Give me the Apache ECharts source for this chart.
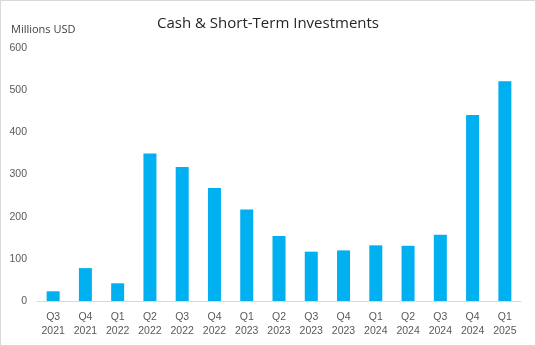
<!DOCTYPE html>
<html><head><meta charset="utf-8">
<script src="https://cdn.jsdelivr.net/npm/echarts@6/dist/echarts.min.js"></script>
<style>html,body{margin:0;padding:0;background:#fff}#c{width:536px;height:346px;box-sizing:border-box;border:1px solid #d9d9d9}</style>
</head><body><div id="c"></div>
<script>
const quarters = ["Q3","Q4","Q1","Q2","Q3","Q4","Q1","Q2","Q3","Q4","Q1","Q2","Q3","Q4","Q1"];
const years = ["2021","2021","2022","2022","2022","2022","2023","2023","2023","2023","2024","2024","2024","2024","2025"];
const cashValues = [23, 78, 42, 350, 318, 268, 217, 154, 117, 120, 132, 131, 157, 441, 521];
const yTicks = [0, 100, 200, 300, 400, 500, 600];

const categories = quarters.map((q, i) => q + "\n" + years[i]);
const chart = echarts.init(document.getElementById('c'));
chart.setOption({
  animation: false,
  title: {
    text: "Cash & Short-Term Investments",
    left: 'center', top: 10,
    textStyle: { fontFamily: 'Open Sans', fontSize: 15, fontWeight: 'normal', color: '#262626' }
  },
  graphic: [{
    type: 'text', left: 10, top: 23,
    style: { text: 'Millions USD', fontFamily: 'Open Sans', fontSize: 11, fill: '#404040' }
  }],
  grid: { left: 36, right: 14, top: 47, bottom: 44 },
  xAxis: {
    type: 'category', data: categories,
    axisLine: { lineStyle: { color: '#d9d9d9' } },
    axisTick: { show: false },
    axisLabel: { color: '#595959', fontFamily: 'Liberation Sans', fontSize: 10.5, lineHeight: 14, margin: 9, interval: 0 }
  },
  yAxis: {
    type: 'value', min: yTicks[0], max: yTicks[yTicks.length - 1], interval: 100,
    splitLine: { show: false },
    axisLabel: { color: '#595959', fontFamily: 'Liberation Sans', fontSize: 10.5, margin: 10 }
  },
  series: [{
    type: 'bar', data: cashValues, barWidth: 13,
    itemStyle: { color: '#00B0F0' }
  }]
});
</script></body></html>
